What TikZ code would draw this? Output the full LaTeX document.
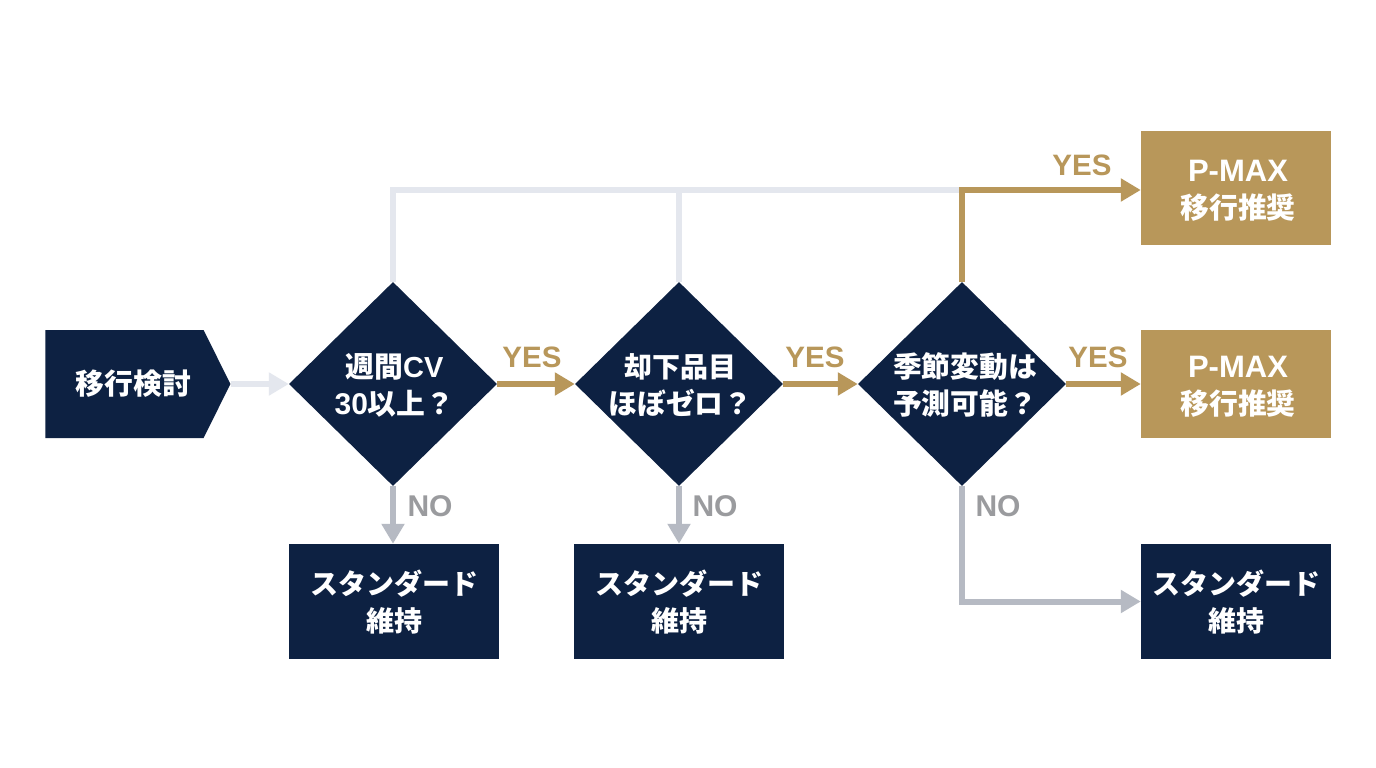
\documentclass[tikz,border=0pt]{standalone}
\usepackage{fontspec}
\setmainfont{Liberation Sans}
\newfontfamily\cjk{Noto Sans CJK JP}
\usetikzlibrary{arrows.meta,shapes.geometric,shapes.symbols}
\definecolor{navy}{HTML}{0D2142}
\definecolor{gold}{HTML}{B8975A}
\definecolor{pale}{HTML}{E4E7EE}
\definecolor{midgray}{HTML}{B6BAC3}
\definecolor{notext}{HTML}{9A9B9E}
\newcommand{\boxline}[1]{\leavevmode\smash{\raisebox{-12pt}{#1}}}
\newcommand{\boxlineup}[1]{\leavevmode\smash{\raisebox{-11pt}{\fontsize{28}{37}\selectfont #1}}}
\newcommand{\latsize}[2]{{\fontsize{#1}{37}\selectfont #2}}
\tikzset{
  boxtext/.style={text=white,align=center,inner sep=0pt,font=\fontsize{28.8}{37}\selectfont\bfseries},
  navybox/.style={boxtext,fill=navy,rectangle},
  goldbox/.style={boxtext,fill=gold,rectangle},
  decision/.style={boxtext,fill=navy,diamond,aspect=1,minimum width=208pt,minimum height=204pt},
  startbox/.style={boxtext,fill=navy,signal,signal to=east,signal from=nowhere,signal pointer angle=127,minimum width=185pt,minimum height=108pt},
  conn/.style={line width=6pt,-{Triangle[length=20pt,width=22pt]}},
  plainconn/.style={line width=6pt},
  yeslabel/.style={text=gold,inner sep=0pt,font=\fontsize{29.5}{32}\selectfont\bfseries},
  nolabel/.style={text=notext,inner sep=0pt,font=\fontsize{30}{32}\selectfont\bfseries},
}
\begin{document}
\begin{tikzpicture}[x=1pt,y=-1pt]
\useasboundingbox[fill=white] (0,0) rectangle (1376,768);
\node[startbox] (start) at (124.5,384) {\hspace*{18pt}\cjk 移行検討};
\node[decision] (d1) at (393,384) {\boxline{\hspace*{3pt}{\cjk 週間}\latsize{29}{CV}}\\\boxline{\hspace*{3pt}\latsize{30}{30}{\cjk 以上？}}};
\node[decision] (d2) at (679,384) {\boxline{\hspace*{3pt}\fontsize{28}{37}\selectfont\cjk 却下品目}\\\boxline{\hspace*{3pt}\cjk ほぼゼロ？}};
\node[decision] (d3) at (962,384) {\boxline{\hspace*{6pt}\cjk 季節変動は}\\\boxline{\hspace*{6pt}\cjk 予測可能？}};
\node[goldbox,minimum width=190pt,minimum height=114pt] (p1) at (1236,188) {\boxline{\hspace*{4pt}\latsize{31}{P-MAX}}\\\boxline{\hspace*{4pt}\cjk 移行推奨}};
\node[goldbox,minimum width=190pt,minimum height=108pt] (p2) at (1236,384) {\boxline{\hspace*{4pt}\latsize{31}{P-MAX}}\\\boxline{\hspace*{4pt}\cjk 移行推奨}};
\node[navybox,minimum width=210pt,minimum height=115pt] (s1) at (394,601.5) {\boxlineup{\cjk スタンダード}\\\boxlineup{\cjk 維持}};
\node[navybox,minimum width=210pt,minimum height=115pt] (s2) at (679,601.5) {\boxlineup{\cjk スタンダード}\\\boxlineup{\cjk 維持}};
\node[navybox,minimum width=190pt,minimum height=115pt] (s3) at (1236,601.5) {\boxlineup{\cjk スタンダード}\\\boxlineup{\cjk 維持}};
\coordinate (topy) at (0,190);
\coordinate (boty) at (0,601.5);
\draw[conn,pale] (start.east) -- (d1.west);
\draw[plainconn,pale] (d1.north) -- (d1.north |- topy) -- (d3.north |- topy);
\draw[plainconn,pale] (d2.north) -- (d2.north |- topy);
\draw[conn,gold] (d1.east) -- (d2.west);
\draw[conn,gold] (d2.east) -- (d3.west);
\draw[conn,gold] (d3.east) -- (p2.west);
\draw[conn,gold] (d3.north) -- (d3.north |- topy) -- (p1.west |- topy);
\draw[conn,midgray] (d1.south) -- (s1.north -| d1.south);
\draw[conn,midgray] (d2.south) -- (s2.north);
\draw[conn,midgray] (d3.south) -- (d3.south |- boty) -- (s3.west |- boty);
\node[yeslabel] (y1) at (532,357) {YES};
\node[yeslabel] (y2) at (815,357) {YES};
\node[yeslabel] (y3) at (1098,357) {YES};
\node[yeslabel] (y4) at (1082,165) {YES};
\node[nolabel] (n1) at (430,506) {NO};
\node[nolabel] (n2) at (715,506) {NO};
\node[nolabel] (n3) at (998,506) {NO};
\end{tikzpicture}
\end{document}
